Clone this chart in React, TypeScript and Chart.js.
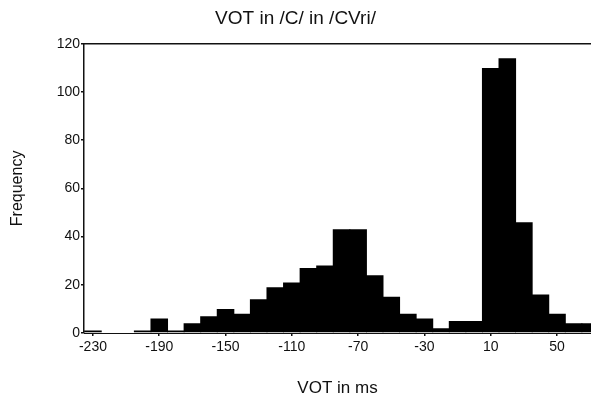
import React, { useEffect, useRef } from "react";
import { Chart, registerables } from "chart.js";

Chart.register(...registerables);

// Bin centres (ms) of the VOT histogram, 10 ms wide each
const binCentres = [
  -230, -220, -210, -200, -190, -180, -170, -160, -150, -140, -130,
  -120, -110, -100, -90, -80, -70, -60, -50, -40, -30, -20, -10, 0,
  10, 20, 30, 40, 50, 60, 70,
];

// Token counts per bin
const frequencies = [
  1, 0, 0, 1, 6, 1, 4, 7, 10, 8, 14,
  19, 21, 27, 28, 43, 43, 24, 15, 8, 6, 2, 5, 5,
  110, 114, 46, 16, 8, 4, 4,
];

// Labelled positions on the VOT axis
const xTickValues = [-230, -190, -150, -110, -70, -30, 10, 50];

const titleText = "VOT in /C/ in /CVri/";
const xTitle = "VOT in ms";
const yTitle = "Frequency";

const FONT = "'Liberation Sans', Arial, sans-serif";
const INK = "#111111";

// Closes the frame along the top of the plotting area
const topFramePlugin = {
  id: "topFrame",
  afterDraw(chart: any) {
    const { ctx, chartArea } = chart;
    ctx.save();
    ctx.strokeStyle = INK;
    ctx.lineWidth = 1.5;
    ctx.beginPath();
    ctx.moveTo(chartArea.left, chartArea.top);
    ctx.lineTo(chartArea.right, chartArea.top);
    ctx.stroke();
    ctx.restore();
  },
};

export default function App() {
  const canvasRef = useRef<HTMLCanvasElement | null>(null);

  useEffect(() => {
    if (!canvasRef.current) return;
    const points = binCentres.map((x, i) => ({ x, y: frequencies[i] }));

    const chart = new Chart(canvasRef.current, {
      type: "bar",
      data: {
        datasets: [
          {
            data: points as any,
            backgroundColor: "#000000",
            borderWidth: 0,
            barPercentage: 1.06,
            categoryPercentage: 1,
          },
        ],
      },
      options: {
        responsive: false,
        animation: false,
        layout: { padding: 0 },
        plugins: {
          legend: { display: false },
          tooltip: { enabled: false },
          title: {
            display: true,
            text: titleText,
            color: INK,
            font: { family: FONT, size: 19, weight: "normal" },
            padding: { top: 7, bottom: 14 },
          },
        },
        scales: {
          x: {
            type: "linear",
            offset: false,
            min: -235.4,
            max: 70.5,
            afterBuildTicks: (scale: any) => {
              scale.ticks = xTickValues.map((v) => ({ value: v }));
            },
            afterFit: (scale: any) => {
              scale.height = 69;
            },
            ticks: {
              color: INK,
              font: { family: FONT, size: 14 },
              padding: 3,
              maxRotation: 0,
              autoSkip: false,
            },
            grid: {
              display: true,
              offset: false,
              drawOnChartArea: false,
              drawTicks: true,
              tickLength: 3,
              color: INK,
              lineWidth: 1.5,
            },
            border: { display: true, color: INK, width: 1 },
            title: {
              display: true,
              text: xTitle,
              color: INK,
              font: { family: FONT, size: 17 },
              padding: { top: 0, bottom: 3 },
            },
          },
          y: {
            min: 0,
            max: 120,
            afterFit: (scale: any) => {
              scale.width = 84;
            },
            ticks: {
              stepSize: 20,
              color: INK,
              font: { family: FONT, size: 14 },
              padding: 1,
            },
            grid: {
              display: true,
              drawOnChartArea: false,
              drawTicks: true,
              tickLength: 3,
              color: INK,
              lineWidth: 1.5,
            },
            border: { display: true, color: INK, width: 1.5 },
            title: {
              display: true,
              text: yTitle,
              color: INK,
              font: { family: FONT, size: 16 },
              padding: { top: 8, bottom: 0 },
            },
          },
        },
      },
      plugins: [topFramePlugin],
    });

    return () => chart.destroy();
  }, []);

  return (
    <div style={{ position: "absolute", left: 0, top: 0, width: 591, height: 402, background: "#ffffff" }}>
      <canvas ref={canvasRef} width={591} height={402} style={{ display: "block" }} />
    </div>
  );
}
